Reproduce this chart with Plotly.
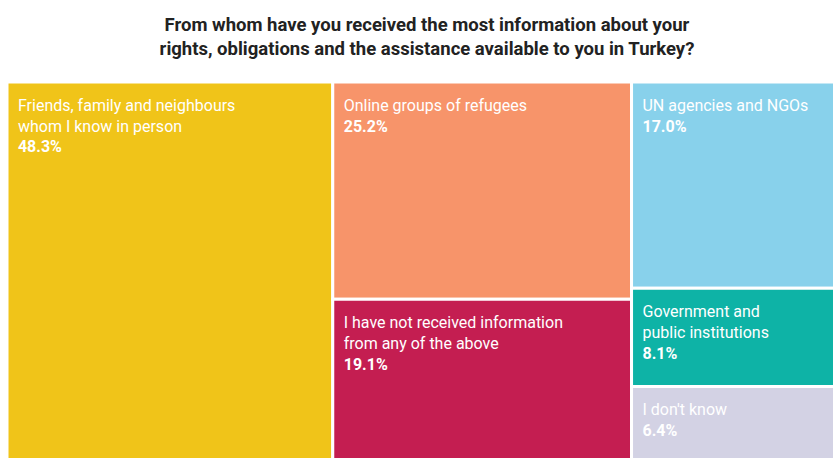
import plotly.graph_objects as go

title_lines = ["From whom have you received the most information about your",
               "rights, obligations and the assistance available to you in Turkey?"]

labels = ["Friends, family and neighbours<br>whom I know in person",
          "Online groups of refugees",
          "I have not received information<br>from any of the above",
          "UN agencies and NGOs",
          "Government and<br>public institutions",
          "I don't know"]
values = [48.3, 25.2, 19.1, 17.0, 8.1, 6.4]
columns = ["c1", "c2", "c2", "c3", "c3", "c3"]
colors = ["#F0C419", "#F7946A", "#C41E51", "#88D1EB", "#0EB3A6", "#D3D2E4"]

col_ids = ["c1", "c2", "c3"]
col_vals = [sum(v for v, c in zip(values, columns) if c == cid) for cid in col_ids]

NB = "\u00a0\u00a0"
def fmt(label, v):
    lines = label.split("<br>") + [f"<b>{v:.1f}%</b>"]
    return "<span style='font-size:5px'>\u00a0</span><br>" + "<br>".join(NB + l for l in lines)

ids = ["root"] + col_ids + [f"leaf{i}" for i in range(len(labels))]
parents = ["", "root", "root", "root"] + columns
vals = [sum(col_vals)] + col_vals + values
texts = ["", "", "", ""] + [fmt(l, v) for l, v in zip(labels, values)]
names = ["", "", "", ""] + labels
cols = ["rgba(0,0,0,0)"] * 4 + colors

fig = go.Figure(go.Treemap(
    ids=ids, parents=parents, values=vals, labels=names, text=texts,
    branchvalues="total", sort=False,
    texttemplate="%{text}", textposition="top left",
    textfont=dict(family="Roboto", size=16, color="white"),
    marker=dict(colors=cols, line=dict(color="white", width=3),
                pad=dict(t=0, l=0, r=0, b=0)),
    tiling=dict(packing="slice-dice", pad=0),
    pathbar=dict(visible=False),
    hoverinfo="skip",
))

W, H = 844, 464
fig.update_layout(
    width=W, height=H,
    margin=dict(l=7, r=0, t=82, b=0),
    paper_bgcolor="white",
    title=dict(text="<b>" + "<br>".join(title_lines) + "</b>",
               x=427 / W, xanchor="center", y=1 - 31 / H, yanchor="middle",
               font=dict(family="Roboto", size=18.5, color="#222222")),
)

fig.write_html(
    "out.html",
    config={"displayModeBar": False},
    post_script="document.body.style.margin='0';document.body.style.overflow='hidden';",
)
